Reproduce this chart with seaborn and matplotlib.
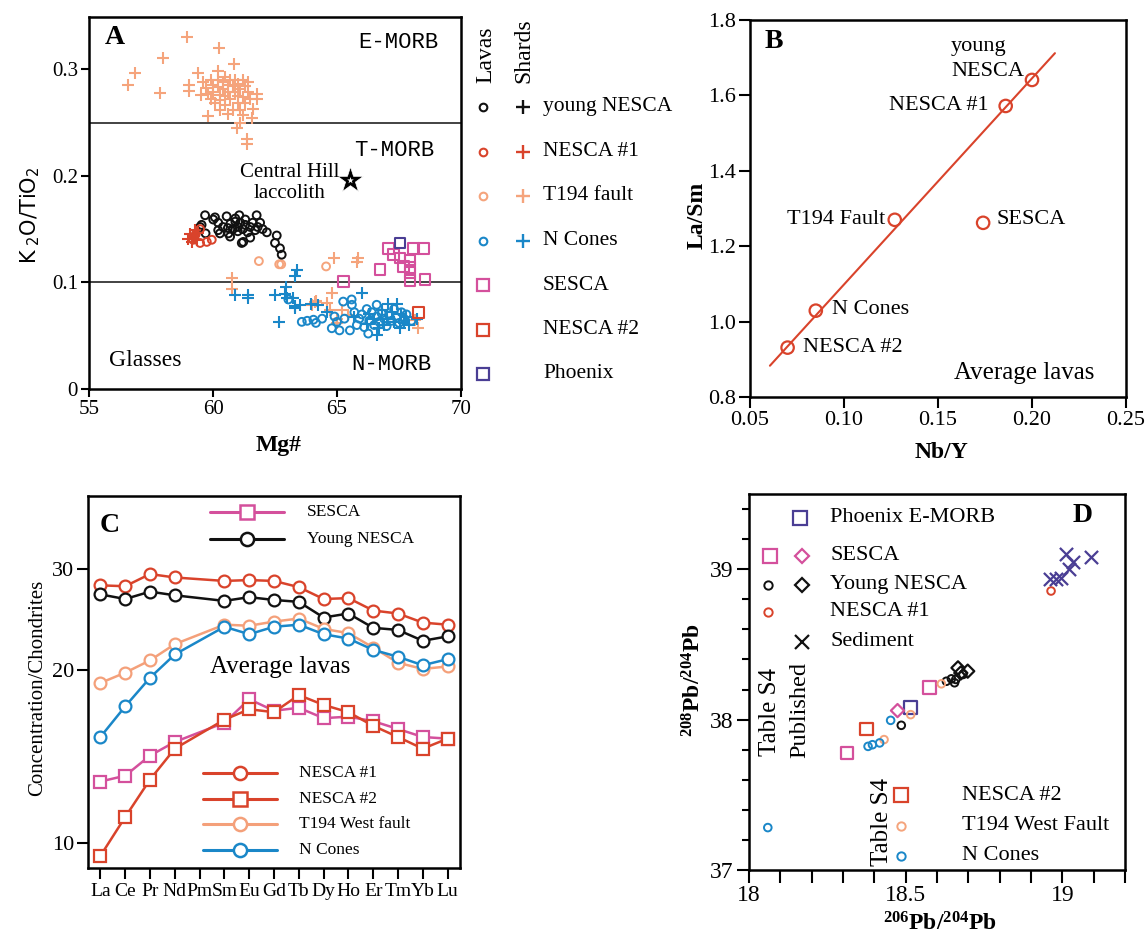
import warnings
warnings.filterwarnings('ignore')
import numpy as np
import pandas as pd
import matplotlib
matplotlib.use('Agg')
import matplotlib.pyplot as plt
import seaborn as sns
from matplotlib.ticker import MultipleLocator, NullLocator, FuncFormatter, FixedLocator

# ---------------- DATA ----------------
# Panel A  (Mg#, K2O/TiO2)
t194_shard_x = [58.96, 60.26, 57.97, 60.86, 56.85, 56.56, 57.86, 59.38, 59.02, 59.04, 60.21, 61.76, 61.76, 61.63,
                61.56, 59.79, 60.98, 61.36, 61.36, 61.10,
                59.6, 59.7, 59.8, 59.9, 59.9, 60.0, 60.0, 60.1, 60.2, 60.2, 60.3, 60.3, 60.4, 60.4, 60.5, 60.5,
                60.5, 60.6, 60.6, 60.7, 60.7, 60.8, 60.8, 60.9, 60.9, 61.0, 61.0, 61.0, 61.1, 61.1, 61.2, 61.2,
                61.3, 61.3, 61.4, 61.4, 61.5, 60.3, 59.5, 60.6, 61.2,
                60.78, 60.78, 64.88, 65.86, 65.79, 64.81, 64.15, 64.72, 64.99, 65.46, 68.28, 68.15, 63.98, 64.58,
                64.11, 65.20, 65.00]
t194_shard_y = [0.330, 0.320, 0.311, 0.305, 0.296, 0.285, 0.278, 0.296, 0.285, 0.280, 0.298, 0.277, 0.272, 0.263,
                0.254, 0.256, 0.245, 0.235, 0.230, 0.250,
                0.288, 0.282, 0.277, 0.290, 0.272, 0.285, 0.279, 0.268, 0.290, 0.283, 0.276, 0.271, 0.288, 0.281,
                0.293, 0.275, 0.266, 0.285, 0.279, 0.290, 0.272, 0.284, 0.262, 0.279, 0.290, 0.275, 0.268, 0.286,
                0.281, 0.262, 0.290, 0.274, 0.284, 0.268, 0.279, 0.288, 0.272, 0.262, 0.276, 0.258, 0.257,
                0.104, 0.094, 0.123, 0.123, 0.119, 0.090, 0.083, 0.074, 0.066, 0.069, 0.057, 0.065, 0.079, 0.081,
                0.082, 0.074, 0.062]
t194_lava_x = [61.85, 62.67, 62.75, 64.56]
t194_lava_y = [0.120, 0.117, 0.117, 0.115]

young_lava_x = [59.68, 60.01, 60.08, 60.55, 61.06, 61.76, 61.90, 62.17, 62.57, 62.50, 62.70, 62.77, 61.16, 60.69,
                60.21, 59.48, 60.21, 59.54, 60.28, 60.62, 61.22, 59.70, 60.40,
                60.7, 60.8, 60.9, 61.0, 61.0, 61.1, 61.2, 61.3, 61.4, 61.5, 61.6, 61.7, 60.9, 61.3, 60.6, 61.8,
                62.0, 61.5]
young_lava_y = [0.163, 0.159, 0.161, 0.162, 0.163, 0.163, 0.156, 0.147, 0.144, 0.137, 0.132, 0.126, 0.137, 0.143,
                0.149, 0.152, 0.156, 0.154, 0.146, 0.146, 0.138, 0.146, 0.152,
                0.155, 0.150, 0.157, 0.152, 0.148, 0.156, 0.150, 0.154, 0.147, 0.152, 0.156, 0.149, 0.160, 0.159,
                0.151, 0.152, 0.150, 0.142]

nesca1_lava_x = [59.48, 59.75, 59.95, 59.20, 59.48, 59.30]
nesca1_lava_y = [0.137, 0.138, 0.140, 0.140, 0.150, 0.145]
nesca1_shard_x = [59.07, 59.27, 59.14, 59.40, 59.20, 59.35, 59.00]
nesca1_shard_y = [0.145, 0.149, 0.138, 0.146, 0.143, 0.140, 0.141]

ncones_shard_x = [63.37, 63.31, 60.89, 61.42, 61.42, 62.50, 62.94, 62.90, 63.24, 63.50, 63.30, 62.67, 63.94, 66.00,
                  64.25, 63.31, 62.97, 66.60, 67.07, 67.40, 67.54, 68.21, 66.90, 66.80, 67.20, 67.60, 67.80, 66.50,
                  67.00, 67.30, 67.70, 66.30, 65.70, 66.20, 67.90, 64.60, 66.70]
ncones_shard_y = [0.112, 0.106, 0.088, 0.088, 0.085, 0.088, 0.096, 0.089, 0.085, 0.079, 0.078, 0.063, 0.080, 0.090,
                  0.079, 0.076, 0.085, 0.051, 0.080, 0.080, 0.057, 0.066, 0.060, 0.074, 0.072, 0.070, 0.068, 0.066,
                  0.066, 0.063, 0.062, 0.070, 0.068, 0.061, 0.060, 0.072, 0.057]
ncones_lava_x = [63.04, 63.58, 64.05, 64.15, 65.25, 65.59, 65.60, 64.79, 65.10, 65.52, 66.60, 66.26, 63.80, 64.40,
                 65.00, 65.30, 65.80, 65.90, 66.00, 66.10, 66.30, 66.40, 66.50, 66.60, 66.70, 66.80, 66.90, 67.00,
                 67.10, 67.20, 67.30, 67.40, 67.50, 67.60, 67.70, 67.80, 68.00, 66.20, 65.70, 64.90]
ncones_lava_y = [0.084, 0.063, 0.065, 0.062, 0.082, 0.084, 0.079, 0.057, 0.055, 0.055, 0.079, 0.052, 0.064, 0.066,
                 0.063, 0.066, 0.060, 0.066, 0.070, 0.058, 0.064, 0.072, 0.060, 0.068, 0.063, 0.071, 0.066, 0.059,
                 0.069, 0.064, 0.075, 0.067, 0.062, 0.072, 0.066, 0.070, 0.064, 0.075, 0.072, 0.068]

sesca_lava_x = [67.07, 67.27, 68.08, 68.48, 67.54, 67.94, 66.73, 67.67, 67.94, 67.94, 68.55, 65.25, 67.94]
sesca_lava_y = [0.132, 0.126, 0.132, 0.132, 0.123, 0.121, 0.112, 0.115, 0.109, 0.102, 0.103, 0.101, 0.114]
phoenix_lava_x = [67.54]
phoenix_lava_y = [0.137]
nesca2_lava_x = [68.28]
nesca2_lava_y = [0.072]
laccolith_x = [65.52]
laccolith_y = [0.196]

# Panel B  (average lavas)
b_names = ['young NESCA', 'NESCA #1', 'T194 Fault', 'SESCA', 'N Cones', 'NESCA #2']
b_nby = [0.200, 0.186, 0.127, 0.174, 0.085, 0.070]
b_lasm = [1.641, 1.572, 1.270, 1.262, 1.029, 0.931]
trend_x = [0.0606, 0.2122]
trend_y = [0.883, 1.712]

# Panel C  (REE / chondrite, average lavas)
ree_labels = ['La', 'Ce', 'Pr', 'Nd', 'Pm', 'Sm', 'Eu', 'Gd', 'Tb', 'Dy', 'Ho', 'Er', 'Tm', 'Yb', 'Lu']
ree_measured = ['La', 'Ce', 'Pr', 'Nd', 'Sm', 'Eu', 'Gd', 'Tb', 'Dy', 'Ho', 'Er', 'Tm', 'Yb', 'Lu']
ree_nesca1 = [28.1, 28.0, 29.4, 29.0, 28.6, 28.7, 28.6, 27.9, 26.6, 26.7, 25.4, 25.1, 24.2, 24.0]
ree_young = [27.1, 26.6, 27.4, 27.0, 26.4, 26.8, 26.5, 26.3, 24.7, 25.1, 23.7, 23.5, 22.5, 22.9]
ree_t194 = [19.0, 19.8, 20.8, 22.2, 24.0, 23.9, 24.3, 24.6, 23.6, 23.2, 21.9, 20.6, 20.1, 20.3]
ree_ncones = [15.3, 17.3, 19.4, 21.3, 23.8, 23.1, 23.8, 24.0, 23.1, 22.7, 21.7, 21.1, 20.4, 20.9]
ree_sesca = [12.8, 13.1, 14.2, 15.0, 16.2, 17.8, 17.0, 17.2, 16.5, 16.6, 16.3, 15.8, 15.3, 15.2]
ree_nesca2 = [9.5, 11.1, 12.9, 14.6, 16.4, 17.1, 16.9, 18.1, 17.4, 16.9, 16.0, 15.3, 14.6, 15.2]

# Panel D  (206Pb/204Pb, 208Pb/204Pb)
d_phoenix_x = [18.515]; d_phoenix_y = [38.083]
d_sesca_pub_x = [18.313, 18.576]; d_sesca_pub_y = [37.778, 38.215]
d_sesca_tab_x = [18.474]; d_sesca_tab_y = [38.060]
d_young_pub_x = [18.486, 18.630, 18.646, 18.656, 18.660, 18.683]
d_young_pub_y = [37.962, 38.255, 38.271, 38.245, 38.267, 38.300]
d_young_tab_x = [18.667, 18.698, 18.676]; d_young_tab_y = [38.344, 38.322, 38.310]
d_nesca1_x = [18.964]; d_nesca1_y = [38.855]
d_sed_x = [18.962, 18.980, 18.996, 19.012, 19.033, 19.022, 19.091]
d_sed_y = [38.938, 38.933, 38.944, 39.100, 39.049, 39.000, 39.078]
d_nesca2_x = [18.375]; d_nesca2_y = [37.938]
d_t194_x = [18.614, 18.516, 18.431]; d_t194_y = [38.238, 38.033, 37.867]
d_ncones_x = [18.380, 18.394, 18.417, 18.452, 18.060]
d_ncones_y = [37.822, 37.833, 37.845, 37.995, 37.282]

# ---------------- STYLE ----------------
ORANGE = '#f5a47c'
BLUE = '#1a87c8'
RED = '#d9432b'
MAGENTA = '#d4509c'
PURPLE = '#4a3e94'
BLACK = '#111111'

sns.set_style('ticks')
plt.rcParams['font.family'] = ['Liberation Serif', 'DejaVu Serif']
plt.rcParams['mathtext.fontset'] = 'custom'
plt.rcParams['mathtext.rm'] = 'Liberation Serif'
plt.rcParams['mathtext.bf'] = 'Liberation Serif:bold'
plt.rcParams['mathtext.it'] = 'Liberation Serif:italic'
plt.rcParams['mathtext.sf'] = 'DejaVu Sans'
for k in ['axes.edgecolor', 'text.color', 'xtick.color', 'ytick.color', 'axes.labelcolor']:
    plt.rcParams[k] = 'black'

W, H = 1146, 939
fig = plt.figure(figsize=(W / 100, H / 100), dpi=100)


def box(l, t, r, b):
    return [l / W, 1 - b / H, (r - l) / W, (b - t) / H]


axA = fig.add_axes(box(89, 17, 461, 389))
axB = fig.add_axes(box(750, 20, 1126, 397))
axC = fig.add_axes(box(88, 496, 460, 868))
axD = fig.add_axes(box(749, 494, 1125, 870))

for ax in (axA, axB, axC, axD):
    for sp in ax.spines.values():
        sp.set_linewidth(1.8)
        sp.set_color('black')
    ax.tick_params(direction='out', width=1.5, labelsize=15, pad=2, color='black')
    ax.set_xlabel('')
    ax.set_ylabel('')


def hollow(ax, x, y, marker, color, s, lw=1.5, z=3):
    sns.scatterplot(x=x, y=y, marker=marker, s=s, color=color, facecolor='none', edgecolor=color,
                    linewidth=lw, ax=ax, legend=False, zorder=z)


def stroke(ax, x, y, marker, color, s, lw=1.5, z=3):
    sns.scatterplot(x=x, y=y, marker=marker, s=s, color=color, linewidth=lw, ax=ax, legend=False, zorder=z)


# ---------------- PANEL A ----------------
axA.axhline(0.25, color='#222222', lw=1.2, zorder=1)
axA.axhline(0.10, color='#222222', lw=1.2, zorder=1)
stroke(axA, t194_shard_x, t194_shard_y, '+', ORANGE, 75)
hollow(axA, t194_lava_x, t194_lava_y, 'o', ORANGE, 32, 1.4)
hollow(axA, young_lava_x, young_lava_y, 'o', BLACK, 32, 1.4)
hollow(axA, nesca1_lava_x, nesca1_lava_y, 'o', RED, 32, 1.4)
stroke(axA, nesca1_shard_x, nesca1_shard_y, '+', RED, 75)
hollow(axA, ncones_lava_x, ncones_lava_y, 'o', BLUE, 32, 1.4)
stroke(axA, ncones_shard_x, ncones_shard_y, '+', BLUE, 75)
hollow(axA, sesca_lava_x, sesca_lava_y, 's', MAGENTA, 60, 1.5)
hollow(axA, phoenix_lava_x, phoenix_lava_y, 's', PURPLE, 60, 1.5)
hollow(axA, nesca2_lava_x, nesca2_lava_y, 's', RED, 60, 1.5)
stroke(axA, laccolith_x, laccolith_y, '*', 'black', 380, 0.5, z=4)
stroke(axA, laccolith_x, laccolith_y, '*', 'white', 25, 0.0, z=5)
axA.set_xlim(55, 70)
axA.set_ylim(0, 0.349)
axA.xaxis.set_major_locator(FixedLocator([55, 60, 65, 70]))
axA.yaxis.set_major_locator(FixedLocator([0, 0.1, 0.2, 0.3]))
axA.yaxis.set_major_formatter(FuncFormatter(lambda v, p: '0' if abs(v) < 1e-9 else f'{v:.1f}'))
axA.tick_params(length=6)
axA.set_xlabel('')
axA.set_ylabel('')

# ---------------- PANEL B ----------------
sns.lineplot(x=trend_x, y=trend_y, color=RED, lw=1.5, ax=axB, legend=False)
hollow(axB, b_nby, b_lasm, 'o', RED, 80, 1.6)
axB.set_xlim(0.05, 0.25)
axB.set_ylim(0.8, 1.8)
axB.xaxis.set_major_locator(FixedLocator([0.05, 0.10, 0.15, 0.20, 0.25]))
axB.xaxis.set_major_formatter(FuncFormatter(lambda v, p: f'{v:.2f}'))
axB.yaxis.set_major_locator(FixedLocator([0.8, 1.0, 1.2, 1.4, 1.6, 1.8]))
axB.yaxis.set_major_formatter(FuncFormatter(lambda v, p: f'{v:.1f}'))
axB.tick_params(length=8, labelsize=16)
axB.set_xlabel('')
axB.set_ylabel('')

# ---------------- PANEL C ----------------
xpos = [ree_labels.index(e) for e in ree_measured]
c_series = [
    (ree_nesca1, RED, 'o'),
    (ree_young, BLACK, 'o'),
    (ree_t194, '#f4a07a', 'o'),
    (ree_ncones, BLUE, 'o'),
    (ree_sesca, MAGENTA, 's'),
    (ree_nesca2, RED, 's'),
]
for vals, col, mk in c_series:
    sns.lineplot(x=xpos, y=vals, color=col, lw=1.8, marker=mk, markersize=8.5, markerfacecolor='white',
                 markeredgecolor=col, markeredgewidth=1.6, ax=axC, legend=False)
axC.set_yscale('log')
axC.set_ylim(9.05, 40.2)
axC.set_xlim(-0.5, 14.5)
axC.yaxis.set_major_locator(FixedLocator([10, 20, 30]))
axC.yaxis.set_major_formatter(FuncFormatter(lambda v, p: f'{v:.0f}'))
axC.yaxis.set_minor_locator(NullLocator())
axC.xaxis.set_major_locator(FixedLocator(list(range(len(ree_labels)))))
axC.set_xticklabels(ree_labels)
axC.tick_params(axis='x', labelsize=14, length=8, pad=3)
axC.tick_params(axis='y', labelsize=16, length=8)
axC.set_xlabel('')
axC.set_ylabel('')

# ---------------- PANEL D ----------------
hollow(axD, d_phoenix_x, d_phoenix_y, 's', PURPLE, 85, 1.6)
hollow(axD, d_sesca_pub_x, d_sesca_pub_y, 's', MAGENTA, 85, 1.6)
hollow(axD, d_sesca_tab_x, d_sesca_tab_y, 'D', MAGENTA, 45, 1.6)
hollow(axD, d_young_pub_x, d_young_pub_y, 'o', BLACK, 30, 1.4)
hollow(axD, d_young_tab_x, d_young_tab_y, 'D', BLACK, 45, 1.6)
hollow(axD, d_nesca1_x, d_nesca1_y, 'o', RED, 30, 1.4)
stroke(axD, d_sed_x, d_sed_y, 'x', PURPLE, 90, 1.6)
hollow(axD, d_nesca2_x, d_nesca2_y, 's', RED, 85, 1.6)
hollow(axD, d_t194_x, d_t194_y, 'o', ORANGE, 30, 1.4)
hollow(axD, d_ncones_x, d_ncones_y, 'o', BLUE, 30, 1.4)
axD.set_xlim(18.0, 19.2)
axD.set_ylim(37.0, 39.5)
axD.xaxis.set_major_locator(FixedLocator([18.0, 18.5, 19.0]))
axD.xaxis.set_minor_locator(MultipleLocator(0.1))
axD.xaxis.set_major_formatter(FuncFormatter(lambda v, p: f'{v:g}'))
axD.yaxis.set_major_locator(FixedLocator([37, 38, 39]))
axD.yaxis.set_minor_locator(MultipleLocator(0.2))
axD.yaxis.set_major_formatter(FuncFormatter(lambda v, p: f'{v:.0f}'))
axD.tick_params(which='major', length=9, labelsize=17)
axD.tick_params(axis='x', which='minor', length=9, width=1.5, direction='out')
axD.tick_params(axis='y', which='minor', length=5, width=1.5, direction='out')
axD.set_xlabel('')
axD.set_ylabel('')

# ---------------- OVERLAY (labels, legends) ----------------
ov = fig.add_axes([0, 0, 1, 1])
ov.set_xlim(0, W)
ov.set_ylim(H, 0)
ov.axis('off')


def t(x, y, s, size=15, ha='left', va='center', **kw):
    ov.text(x, y, s, fontsize=size, ha=ha, va=va, **kw)


# panel letters
t(105, 38, 'A', 20, fontweight='bold')
t(765, 41, 'B', 20, fontweight='bold')
t(100, 525, 'C', 20, fontweight='bold')
t(1073, 516, 'D', 20, fontweight='bold')

# Panel A labels
t(30, 215, r'$\mathsf{K\ _2O/TiO_2}$', 15, ha='center', rotation=90)
t(279, 446, 'Mg#', 17, ha='center', fontweight='bold')
mono = dict(family='Liberation Mono')
t(398, 42, 'E-MORB', 16, ha='center', **mono)
t(394, 151, 'T-MORB', 16, ha='center', **mono)
t(391, 365, 'N-MORB', 16, ha='center', **mono)
t(145, 361, 'Glasses', 17, ha='center')
t(290, 183, 'Central Hill\nlaccolith', 15, ha='center', linespacing=1.15)

# Panel A legend
t(486, 83, 'Lavas', 17, ha='center', va='bottom', rotation=90)
t(524, 83, 'Shards', 17, ha='center', va='bottom', rotation=90)
legA = [('young NESCA', BLACK, 'o', '+'), ('NESCA #1', RED, 'o', '+'), ('T194 fault', ORANGE, 'o', '+'),
        ('N Cones', BLUE, 'o', '+'), ('SESCA', MAGENTA, 's', None), ('NESCA #2', RED, 's', None),
        ('Phoenix', PURPLE, 's', None)]
for i, (lab, col, m1, m2) in enumerate(legA):
    yy = 107 + i * 44.5
    if m1 == 'o':
        ov.plot([483], [yy], marker='o', ms=5.5, mfc='none', mec=col, mew=1.5, ls='none')
    else:
        ov.plot([483], [yy], marker='s', ms=8, mfc='none', mec=col, mew=1.6, ls='none')
    if m2:
        ov.plot([523], [yy], marker='+', ms=10, mec=col, mew=1.7, ls='none')
    t(543, yy, lab, 15.5)

# Panel B labels
t(697, 215, 'La/Sm', 17, ha='center', rotation=90, fontweight='bold')
t(941, 452, 'Nb/Y', 17, ha='center', fontweight='bold')
t(951, 47, 'young', 16)
t(951, 72, 'NESCA', 16)
t(989, 105, 'NESCA #1', 16, ha='right')
t(885, 219, 'T194 Fault', 16, ha='right')
t(997, 219, 'SESCA', 16)
t(832, 310, 'N Cones', 16)
t(803, 347, 'NESCA #2', 16)
t(954, 373, 'Average lavas', 18)

# Panel C labels / legends
t(38, 688, 'Concentration/Chondrites', 15, ha='center', rotation=90)
t(210, 667, 'Average lavas', 18)
legC = [(512, 'SESCA', MAGENTA, 's', 210, 284, 307), (539, 'Young NESCA', BLACK, 'o', 210, 284, 307),
        (773, 'NESCA #1', RED, 'o', 203, 277, 299), (799, 'NESCA #2', RED, 's', 203, 277, 299),
        (824, 'T194 West fault', '#f4a07a', 'o', 203, 277, 299), (850, 'N Cones', BLUE, 'o', 203, 277, 299)]
for yy, lab, col, mk, x0, x1, xl in legC:
    ov.plot([x0, x1], [yy, yy], color=col, lw=2.2)
    ov.plot([(x0 + x1) / 2], [yy], marker=mk, ms=9.5, mfc='white', mec=col, mew=1.8, ls='none')
    t(xl, yy, lab, 12.5)

# Panel D labels / legends
t(694, 680, r'$^{\mathbf{208}}$Pb/$^{\mathbf{204}}$Pb', 17, ha='center', rotation=90, fontweight='bold')
t(940, 924, r'$^{\mathbf{206}}$Pb/$^{\mathbf{204}}$Pb', 17, ha='center', fontweight='bold')
t(770, 712, 'Table S4', 18, ha='center', rotation=90)
t(800, 710, 'Published', 17.5, ha='center', rotation=90)
t(882, 822, 'Table S4', 18, ha='center', rotation=90)


def dmark(x, y, m, col, ms, mew=1.6):
    ov.plot([x], [y], marker=m, ms=ms, mfc='none', mec=col, mew=mew, ls='none')


dmark(800, 518, 's', PURPLE, 10)
t(830, 518, 'Phoenix E-MORB', 16)
dmark(770, 556, 's', MAGENTA, 10)
dmark(802, 556, 'D', MAGENTA, 7.5)
t(830, 556, 'SESCA', 16)
dmark(768, 585, 'o', BLACK, 6, 1.4)
dmark(802, 585, 'D', BLACK, 7.5)
t(830, 585, 'Young NESCA', 16)
dmark(768, 612, 'o', RED, 6, 1.4)
t(830, 612, 'NESCA #1', 16)
ov.plot([802], [642], marker='x', ms=10, mec=BLACK, mew=1.6, ls='none')
t(830, 642, 'Sediment', 16)
dmark(901, 795, 's', RED, 10)
t(962, 795, 'NESCA #2', 16)
dmark(901, 826, 'o', ORANGE, 6, 1.4)
t(962, 825, 'T194 West Fault', 16)
dmark(901, 856, 'o', BLUE, 6, 1.4)
t(962, 855, 'N Cones', 16)

fig.savefig('out.png', dpi=100)
